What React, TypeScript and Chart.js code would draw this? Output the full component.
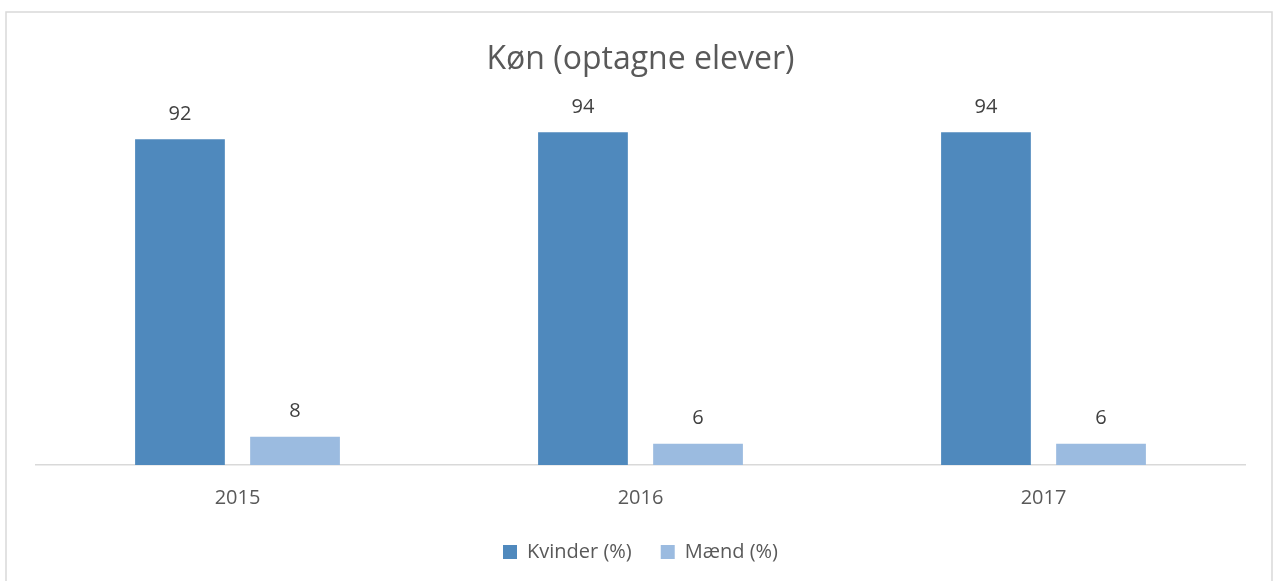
import React, { useEffect, useRef } from "react";
import { Chart, registerables } from "chart.js";

Chart.register(...registerables);

const categories = ["2015", "2016", "2017"];
const kvinder = [92, 94, 94];
const maend = [8, 6, 6];
const seriesNames = ["Kvinder (%)", "Mænd (%)"];
const titleText = "Køn (optagne elever)";

const FONT = "'Open Sans', 'Noto Sans', sans-serif";

const valueLabels = {
  id: "valueLabels",
  afterDatasetsDraw(chart: any) {
    const ctx = chart.ctx;
    ctx.save();
    ctx.font = `20px ${FONT}`;
    ctx.fillStyle = "#404040";
    ctx.textAlign = "center";
    ctx.textBaseline = "middle";
    chart.data.datasets.forEach((ds: any, i: number) => {
      const meta = chart.getDatasetMeta(i);
      meta.data.forEach((bar: any, j: number) => {
        ctx.fillText(String(ds.data[j]), bar.x, bar.y - 25);
      });
    });
    ctx.restore();
  },
};

const frame = {
  id: "frame",
  beforeDraw(chart: any) {
    const ctx = chart.ctx;
    ctx.save();
    ctx.fillStyle = "#ffffff";
    ctx.fillRect(0, 0, chart.width, chart.height);
    ctx.strokeStyle = "#d9d9d9";
    ctx.lineWidth = 1.5;
    ctx.strokeRect(6, 12, 1266, 620);
    ctx.restore();
  },
};

export default function App() {
  const ref = useRef<HTMLCanvasElement>(null);
  useEffect(() => {
    if (!ref.current) return;
    const chart = new Chart(ref.current, {
      type: "bar",
      data: {
        labels: categories,
        datasets: [
          {
            label: seriesNames[0],
            data: kvinder,
            backgroundColor: "#4f89bd",
            categoryPercentage: 0.571,
            barPercentage: 0.78,
          },
          {
            label: seriesNames[1],
            data: maend,
            backgroundColor: "#9bbbe0",
            categoryPercentage: 0.571,
            barPercentage: 0.78,
          },
        ],
      },
      options: {
        animation: false,
        responsive: false,
        layout: { padding: { left: 36, right: 29, top: 20, bottom: 9 } },
        plugins: {
          title: {
            display: true,
            text: titleText,
            color: "#595959",
            font: { family: FONT, size: 32, weight: "normal" },
            padding: { top: 21, bottom: 31.6 },
          },
          legend: {
            position: "bottom",
            labels: {
              color: "#595959",
              font: { family: FONT, size: 20 },
              boxWidth: 14,
              boxHeight: 14,
              padding: 29,
            },
          },
          tooltip: { enabled: false },
        },
        scales: {
          x: {
            grid: { display: false, drawTicks: false },
            border: { display: true, color: "#d9d9d9", width: 1.5 },
            ticks: { color: "#595959", font: { family: FONT, size: 20 }, padding: 21 },
            afterFit: (scale: any) => {
              scale.height -= 18;
            },
          },
          y: {
            display: false,
            min: 0,
            max: 100,
          },
        },
      },
      plugins: [frame, valueLabels],
    });
    return () => chart.destroy();
  }, []);
  return (
    <div style={{ position: "absolute", left: 0, top: 0, width: 1274, height: 581 }}>
      <canvas ref={ref} width={1274} height={581} style={{ display: "block" }} />
    </div>
  );
}
